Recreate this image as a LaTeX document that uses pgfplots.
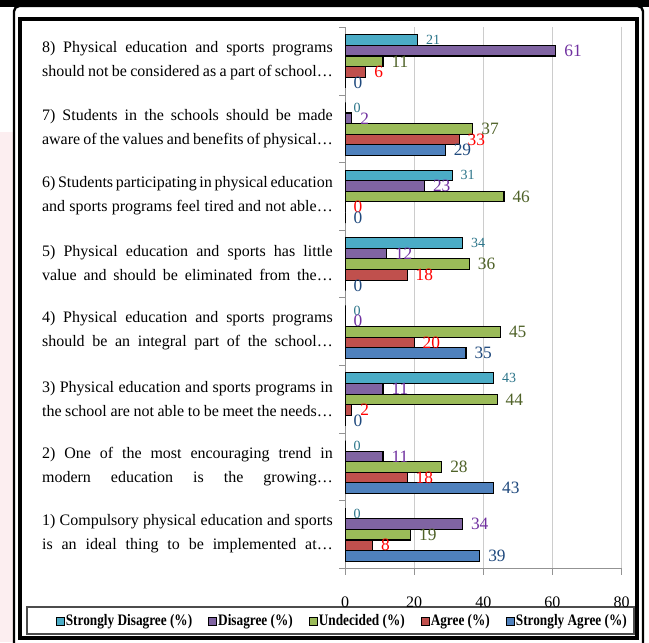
\documentclass[border=0pt]{standalone}
\usepackage{fontspec}
\setmainfont{Liberation Serif}
\newfontfamily\legfont[FakeStretch=0.83]{Liberation Serif}
\usepackage{pgfplots}
\pgfplotsset{compat=1.18}

\definecolor{cSD}{HTML}{4BACC6}
\definecolor{cD}{HTML}{8064A2}
\definecolor{cU}{HTML}{9BBB59}
\definecolor{cA}{HTML}{C0504D}
\definecolor{cSA}{HTML}{4F81BD}
\definecolor{tSD}{HTML}{2A7489}
\definecolor{tD}{HTML}{7030A0}
\definecolor{tU}{HTML}{4F6228}
\definecolor{tA}{HTML}{FF0000}
\definecolor{tSA}{HTML}{1F497D}
\definecolor{pinkbg}{HTML}{FCEEF0}

% two justified lines for a category label
\newcommand\jl[2]{\vbox{\baselineskip=18pt\hbox to 218pt{#1}\hbox to 218pt{#2}}}

\begin{document}
\begin{tikzpicture}
% frame, in pixels (y from the bottom)
\begin{scope}[x=0.75pt,y=0.75pt]
  \path[use as bounding box, fill=white] (0,0) rectangle (649,642);
  \fill[pinkbg] (0,0) rectangle (13,510);
  \fill[black] (0,635) rectangle (649,642);
  \draw[black, line width=1.8pt, rounded corners=4pt] (14,-20) -- (14,636) -- (643,636) -- (643,-20);
  \draw[black, line width=3pt] (19.5,4.5) rectangle (636.5,623);
  \draw[gray!60!black, line width=0.9pt] (27,8) rectangle (634,35);
\end{scope}

\begin{axis}[
  at={(258.75pt,55.125pt)}, anchor=south west,
  scale only axis, width=207.375pt, height=405.75pt,
  xbar, bar width=7.95pt,
  xmin=0, xmax=80, ymin=0.5, ymax=8.5,
  axis x line*=bottom, axis y line*=left,
  axis line style={-, draw=gray!85, line width=0.75pt},
  xtick={0,20,...,80},
  xmajorgrids, grid style={gray!40, line width=0.75pt},
  tick align=outside, major tick length=4.5pt,
  tick style={gray!85, line width=0.75pt},
  xticklabel style={font=\fontsize{12}{14}\selectfont, yshift=-13pt},
  /pgf/number format/assume math mode=true,
  ytick={0.5,1.5,...,8.5}, yticklabels={},
  extra y ticks={1,...,8},
  extra y tick style={major tick length=0pt, grid=none,
    yticklabel style={font=\fontsize{12}{14}\selectfont, inner sep=0pt, xshift=-9pt, yshift=0.5pt}},
  extra y tick labels={
    {\jl{1) Compulsory physical education and sports}{is an ideal thing to be implemented at…}},
    {\jl{2) One of the most encouraging trend in}{modern education is the growing…}},
    {\jl{3) Physical education and sports programs in}{the school are not able to be meet the needs…}},
    {\jl{4) Physical education and sports programs}{should be an integral part of the school…}},
    {\jl{5) Physical education and sports has little}{value and should be eliminated from the…}},
    {\jl{6) Students participating in physical education}{and sports programs feel tired and not able…}},
    {\jl{7) Students in the schools should be made}{aware of the values and benefits of physical…}},
    {\jl{8) Physical education and sports programs}{should not be considered as a part of school…}}},
  nodes near coords,
  every node near coord/.append style={anchor=west, inner sep=0pt, xshift=6pt},
  legend columns=5,
  legend image code/.code={\draw[#1, draw=black, line width=0.5pt] (0pt,-3pt) rectangle (6pt,3pt);},
  legend style={draw=none, fill=none, at={(-0.011,-0.097)}, anchor=center,
    font=\legfont\bfseries\fontsize{12}{14}\selectfont,
    nodes={inner sep=1pt},
    /tikz/every even column/.append style={column sep=11pt}},
]
\addplot[fill=cSD, draw=black, line width=0.8pt, bar shift=15.9pt,
  every node near coord/.append style={text=tSD, font=\fontsize{10.5}{12}\selectfont}]
  coordinates {(0,1) (0,2) (43,3) (0,4) (34,5) (31,6) (0,7) (21,8)};
\addlegendentry{Strongly Disagree (\%)}
\addplot[fill=cD, draw=black, line width=0.8pt, bar shift=7.95pt,
  every node near coord/.append style={text=tD, font=\fontsize{13}{14}\selectfont}]
  coordinates {(34,1) (11,2) (11,3) (0,4) (12,5) (23,6) (2,7) (61,8)};
\addlegendentry{Disagree (\%)}
\addplot[fill=cU, draw=black, line width=0.8pt, bar shift=0pt,
  every node near coord/.append style={text=tU, font=\fontsize{13}{14}\selectfont}]
  coordinates {(19,1) (28,2) (44,3) (45,4) (36,5) (46,6) (37,7) (11,8)};
\addlegendentry{Undecided (\%)}
\addplot[fill=cA, draw=black, line width=0.8pt, bar shift=-7.95pt,
  every node near coord/.append style={text=tA, font=\fontsize{13}{14}\selectfont}]
  coordinates {(8,1) (18,2) (2,3) (20,4) (18,5) (0,6) (33,7) (6,8)};
\addlegendentry{Agree (\%)}
\addplot[fill=cSA, draw=black, line width=0.8pt, bar shift=-15.9pt,
  every node near coord/.append style={text=tSA, font=\fontsize{13}{14}\selectfont}]
  coordinates {(39,1) (43,2) (0,3) (35,4) (0,5) (0,6) (29,7) (0,8)};
\addlegendentry{Strongly Agree (\%)}
\end{axis}
\end{tikzpicture}
\end{document}
